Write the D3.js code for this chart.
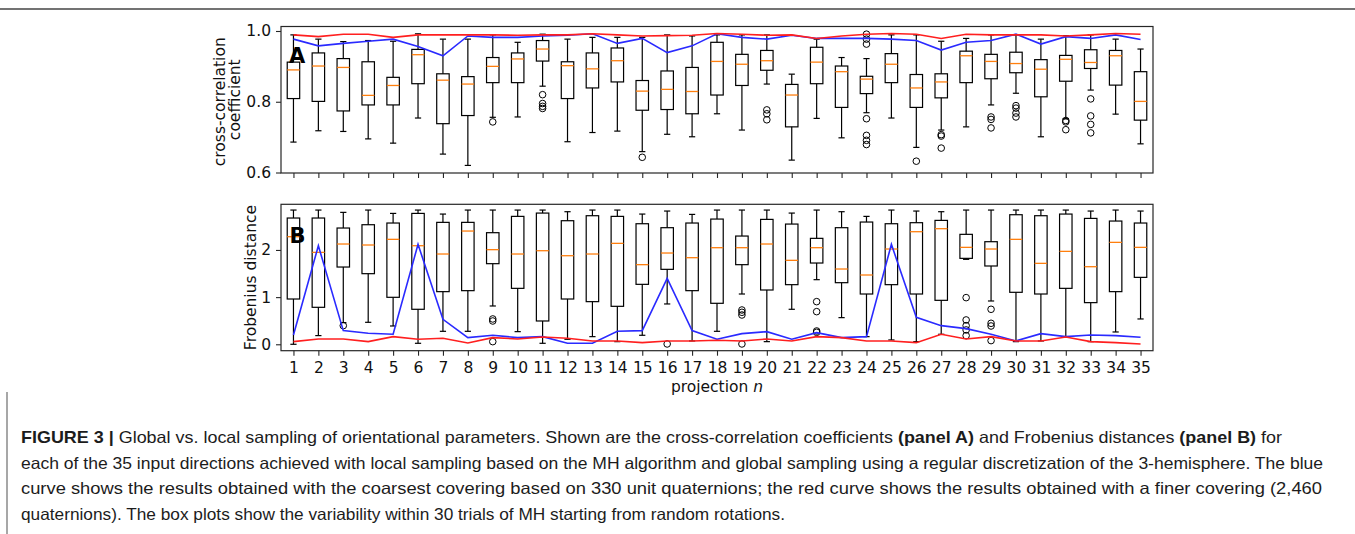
<!DOCTYPE html>
<html><head><meta charset="utf-8">
<script src="https://cdn.jsdelivr.net/npm/d3@7"></script>
<style>
html,body{margin:0;padding:0;background:#fff;}
svg{display:block;}
</style></head><body>
<svg id="chart" width="1355" height="534"></svg>
<script>
// ---------- DATA ----------
const projections = d3.range(1, 36);

// Panel A: cross-correlation coefficient box statistics
const ccLow  = [.686,.718,.716,.695,.683,.754,.652,.620,.756,.757,.844,.687,.713,.717,.659,.708,.701,.766,.720,.850,.635,.753,.698,.769,.754,.671,.720,.729,.791,.824,.701,.752,.833,.765,.681];
const ccQ1   = [.809,.801,.774,.791,.791,.851,.738,.761,.854,.854,.915,.809,.839,.856,.776,.778,.766,.819,.846,.889,.729,.851,.784,.823,.854,.784,.811,.854,.865,.882,.814,.858,.894,.847,.748];
const ccMed  = [.890,.901,.897,.818,.846,.933,.861,.850,.900,.921,.949,.902,.893,.916,.830,.835,.829,.914,.906,.916,.819,.912,.885,.864,.906,.839,.856,.930,.914,.908,.892,.920,.911,.930,.801];
const ccQ3   = [.912,.938,.922,.913,.869,.948,.879,.871,.925,.938,.973,.913,.938,.952,.860,.887,.897,.968,.934,.945,.849,.954,.901,.872,.936,.877,.879,.943,.934,.940,.919,.931,.947,.945,.885];
const ccHigh = [.989,.977,.970,.973,.971,.992,.977,.977,.989,.968,.991,.977,.982,.982,.982,.989,.986,.989,.989,.989,.878,.977,.925,.922,.989,.989,.971,.979,.989,.989,.977,.987,.989,.977,.949];
const ccOut  = [[],[],[],[],[],[],[],[],[.743],[],[.820,.795,.787,.781],[],[],[],[.643],[],[],[],[],[.777,.766,.749],[],[],[],[.991,.977,.963,.752,.705,.691,.679],[],[.632],[.707,.703,.669],[],[.757,.750,.726],[.789,.782,.768,.757],[],[.747,.743,.721],[.808,.760,.736,.712],[],[]];
const ccBlue = [.977,.958,.965,.971,.977,.956,.930,.986,.982,.982,.986,.988,.992,.965,.979,.939,.958,.992,.982,.977,.988,.979,.979,.979,.977,.973,.946,.968,.973,.991,.963,.984,.979,.989,.976];
const ccRed  = [.989,.984,.991,.991,.982,.989,.989,.989,.989,.988,.989,.989,.992,.989,.986,.987,.988,.993,.991,.988,.989,.979,.986,.991,.993,.991,.979,.991,.989,.989,.989,.986,.989,.993,.991];

// Panel B: Frobenius distance box statistics
const fdLow  = [.000,.184,.459,.466,.388,.021,.275,.275,.812,.268,.021,.106,.162,.056,.191,.855,.071,.275,1.066,.056,.742,1.370,.565,.162,.092,.056,.212,1.801,.918,.056,.071,.162,.056,.261,.537];
const fdQ1   = [.960,.784,1.638,1.497,.996,.742,1.116,1.137,1.709,1.186,.494,.960,.904,.805,1.271,1.589,1.137,.869,1.688,1.151,1.264,1.723,1.306,1.066,1.264,1.066,.932,1.822,1.660,1.102,1.066,1.186,.883,1.116,1.419];
const fdMed  = [2.281,1.949,2.126,2.105,2.225,2.090,1.914,2.401,2.006,1.914,1.984,1.878,1.914,2.140,1.688,1.935,1.836,2.048,2.048,2.126,1.780,2.048,1.596,1.469,2.020,2.387,2.451,2.055,2.020,2.225,1.716,1.970,1.645,2.161,2.055];
const fdQ3   = [2.677,2.677,2.465,2.535,2.571,2.775,2.585,2.585,2.366,2.712,2.782,2.620,2.726,2.712,2.556,2.472,2.571,2.655,2.295,2.648,2.549,2.246,2.472,2.592,2.556,2.578,2.627,2.331,2.175,2.747,2.726,2.761,2.669,2.613,2.571];
const fdHigh = [2.846,2.846,2.797,2.846,2.775,2.846,2.761,2.846,2.846,2.846,2.846,2.811,2.846,2.846,2.761,2.825,2.754,2.846,2.846,2.846,2.782,2.846,2.811,2.712,2.846,2.825,2.811,2.846,2.846,2.846,2.846,2.846,2.825,2.846,2.825];
const fdOut  = [[],[],[.395],[],[],[],[],[],[.537,.494,.056],[],[],[],[],[],[],[.007],[],[],[.727,.678,.621,.007],[],[],[.904,.692,.282,.254],[],[],[],[],[],[.989,.516,.395,.304,.184],[.742,.445,.388,.078],[],[],[],[],[],[]];
const fdBlue = [.198,2.090,.290,.233,.212,2.119,.530,.141,.191,.141,.162,.021,.021,.275,.290,1.398,.290,.106,.226,.268,.106,.247,.141,.162,2.119,.572,.395,.332,.212,.071,.226,.162,.198,.184,.148];
const fdRed  = [.056,.113,.113,.056,.162,.106,.127,.028,.141,.113,.155,.127,.071,.071,.035,.071,.071,.085,.071,.113,.071,.162,.141,.071,.071,.035,.212,.113,.162,.071,.071,.155,.056,.035,.007];

const ccTicks = [0.6, 0.8, 1.0];
const fdTicks = [0, 1, 2];

const captionLines = [
  [["FIGURE 3 | ", true], ["Global vs. local sampling of orientational parameters. Shown are the cross-correlation coefficients ", false], ["(panel A)", true], [" and Frobenius distances ", false], ["(panel B)", true], [" for", false]],
  [["each of the 35 input directions achieved with local sampling based on the MH algorithm and global sampling using a regular discretization of the 3-hemisphere. The blue", false]],
  [["curve shows the results obtained with the coarsest covering based on 330 unit quaternions; the red curve shows the results obtained with a finer covering (2,460", false]],
  [["quaternions). The box plots show the variability within 30 trials of MH starting from random rotations.", false]]
];
const captionWidths = [1261, 1302, 1301, 764];

// ---------- LAYOUT ----------
const svg = d3.select("#chart");
const FONT = "DejaVu Sans, sans-serif";
const left = 281, right = 1153;
const x = d3.scaleLinear().domain([0.5, 35.5]).range([left, right]);
const yA = d3.scaleLinear().domain([0.5986, 1.0127]).range([173, 26.5]);
const yB = d3.scaleLinear().domain([-0.136, 2.968]).range([350.7, 204.3]);

// page rules
svg.append("line").attr("x1", 0).attr("x2", 1355).attr("y1", 9).attr("y2", 9)
  .attr("stroke", "#444").attr("stroke-width", 1.5);
svg.append("line").attr("x1", 7).attr("x2", 7).attr("y1", 392).attr("y2", 534)
  .attr("stroke", "#8a8a8a").attr("stroke-width", 1.5);

function panel(y, low, q1, med, q3, high, outs, blue, red, ticks, tickFmt, showXLabels) {
  const g = svg.append("g");
  const data = projections.map((p, i) => ({p, low: low[i], q1: q1[i], med: med[i], q3: q3[i], high: high[i], out: outs[i]}));
  const hw = x(0.25) - x(0);
  const cw = x(0.125) - x(0);
  const box = g.selectAll("g.box").data(data).join("g").attr("class", "box");
  box.append("line").attr("x1", d => x(d.p)).attr("x2", d => x(d.p))
    .attr("y1", d => y(d.q1)).attr("y2", d => y(d.low)).attr("stroke", "#000").attr("stroke-width", 1.2);
  box.append("line").attr("x1", d => x(d.p)).attr("x2", d => x(d.p))
    .attr("y1", d => y(d.q3)).attr("y2", d => y(d.high)).attr("stroke", "#000").attr("stroke-width", 1.2);
  box.append("line").attr("x1", d => x(d.p) - cw).attr("x2", d => x(d.p) + cw)
    .attr("y1", d => y(d.low)).attr("y2", d => y(d.low)).attr("stroke", "#000").attr("stroke-width", 1.2);
  box.append("line").attr("x1", d => x(d.p) - cw).attr("x2", d => x(d.p) + cw)
    .attr("y1", d => y(d.high)).attr("y2", d => y(d.high)).attr("stroke", "#000").attr("stroke-width", 1.2);
  box.append("rect").attr("x", d => x(d.p) - hw).attr("width", 2 * hw)
    .attr("y", d => y(d.q3)).attr("height", d => y(d.q1) - y(d.q3))
    .attr("fill", "none").attr("stroke", "#000").attr("stroke-width", 1.2);
  box.append("line").attr("x1", d => x(d.p) - hw).attr("x2", d => x(d.p) + hw)
    .attr("y1", d => y(d.med)).attr("y2", d => y(d.med)).attr("stroke", "#ff7f0e").attr("stroke-width", 1.3);
  box.selectAll("circle").data(d => d.out.map(v => ({p: d.p, v}))).join("circle")
    .attr("cx", d => x(d.p)).attr("cy", d => y(d.v)).attr("r", 3.3)
    .attr("fill", "none").attr("stroke", "#000").attr("stroke-width", 1);

  const line = arr => d3.line().x((d, i) => x(projections[i])).y(d => y(d))(arr);
  g.append("path").attr("d", line(blue)).attr("fill", "none").attr("stroke", "#2a2aff").attr("stroke-width", 1.6);
  g.append("path").attr("d", line(red)).attr("fill", "none").attr("stroke", "#ff1f1f").attr("stroke-width", 1.6);

  // frame
  const [yb, yt] = y.range();
  g.append("rect").attr("x", left).attr("y", yt).attr("width", right - left).attr("height", yb - yt)
    .attr("fill", "none").attr("stroke", "#262626").attr("stroke-width", 1.2);

  // axes
  const ay = g.append("g").attr("transform", `translate(${left},0)`)
    .call(d3.axisLeft(y).tickValues(ticks).tickFormat(tickFmt).tickSize(5).tickPadding(5));
  const ax = g.append("g").attr("transform", `translate(0,${yb})`)
    .call(d3.axisBottom(x).tickValues(projections).tickFormat(showXLabels ? d3.format("d") : () => "").tickSize(5).tickPadding(6.5));
  [ay, ax].forEach(a => {
    a.select(".domain").remove();
    a.selectAll(".tick line").attr("stroke", "#262626").attr("stroke-width", 1.1);
    a.selectAll(".tick text").attr("fill", "#111").attr("font-family", FONT).attr("font-size", 15.5);
  });
  return g;
}

panel(yA, ccLow, ccQ1, ccMed, ccQ3, ccHigh, ccOut, ccBlue, ccRed, ccTicks, d3.format(".1f"), false);
panel(yB, fdLow, fdQ1, fdMed, fdQ3, fdHigh, fdOut, fdBlue, fdRed, fdTicks, d3.format("d"), true);

// panel letters
svg.append("text").attr("x", 289).attr("y", 63).text("A")
  .attr("font-family", FONT).attr("font-weight", "bold").attr("font-size", 21).attr("fill", "#000");
svg.append("text").attr("x", 289.5).attr("y", 242.5).text("B")
  .attr("font-family", FONT).attr("font-weight", "bold").attr("font-size", 21).attr("fill", "#000");

// axis titles
const ylab = (xb, yc, s) => svg.append("text").attr("transform", `translate(${xb},${yc}) rotate(-90)`)
  .attr("text-anchor", "middle").attr("font-family", FONT).attr("font-size", 15.5).attr("fill", "#111").text(s);
ylab(225, (yA.range()[0] + yA.range()[1]) / 2 + 2, "cross-correlation");
ylab(239.5, (yA.range()[0] + yA.range()[1]) / 2, "coefficient");
ylab(255.5, (yB.range()[0] + yB.range()[1]) / 2, "Frobenius distance");

const xl = svg.append("text").attr("x", (left + right) / 2).attr("y", 392).attr("text-anchor", "middle")
  .attr("font-family", FONT).attr("font-size", 15.5).attr("fill", "#111");
xl.append("tspan").text("projection ");
xl.append("tspan").attr("font-style", "italic").text("n");

// caption
const capBase = [443, 468.5, 494, 519.5];
captionLines.forEach((parts, i) => {
  const t = svg.append("text").attr("x", 21).attr("y", capBase[i])
    .attr("font-family", "Liberation Sans, Arial, sans-serif").attr("font-size", 16.5).attr("fill", "#1c1c1c")
    .attr("textLength", captionWidths[i]).attr("lengthAdjust", "spacingAndGlyphs");
  parts.forEach(([s, b]) => t.append("tspan").attr("font-weight", b ? "bold" : "normal").text(s));
});
</script>
</body></html>
